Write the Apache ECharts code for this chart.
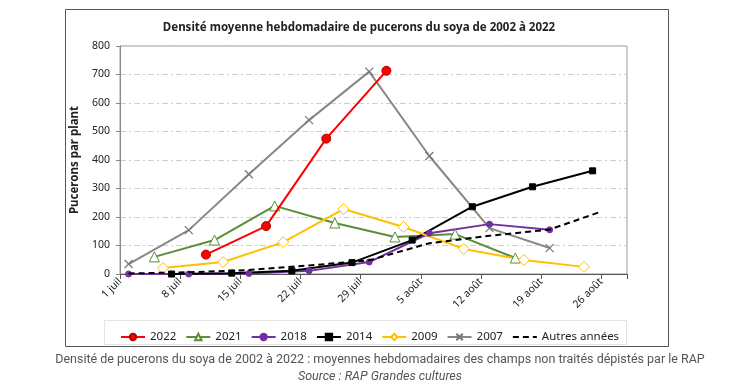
<!DOCTYPE html>
<html><head><meta charset="utf-8">
<script src="https://cdn.jsdelivr.net/npm/echarts@6/dist/echarts.min.js"></script>
<style>html,body{margin:0;padding:0;background:#fff;}#c{width:750px;height:386px;}</style>
</head><body><div id="c"></div>
<script>
// x = days after 1 July
const tickLabels = ['1 juil','8 juil','15 juil','22 juil','29 juil','5 août','12 août','19 août','26 août'];
const days2022 = [10, 17, 24, 31];
const vals2022 = [68, 168, 475, 713];
const days2021 = [4, 11, 18, 25, 32, 39, 46];
const vals2021 = [60, 119, 239, 179, 130, 140, 56];
const days2018 = [1, 8, 15, 22, 29, 36, 43, 50];
const vals2018 = [0, 0, 2, 11, 42, 143, 175, 155];
const days2014 = [6, 13, 20, 27, 34, 41, 48, 55];
const vals2014 = [0, 3, 11, 40, 119, 236, 306, 362];
const days2009 = [5, 12, 19, 26, 33, 40, 47, 54];
const vals2009 = [21, 42, 112, 228, 165, 88, 49, 25];
const days2007 = [1, 8, 15, 22, 29, 36, 43, 50];
const vals2007 = [35, 154, 350, 540, 710, 414, 161, 91];
const daysAutres = [1, 8, 15, 22, 29, 36, 43, 50, 56];
const valsAutres = [2, 6, 14, 30, 48, 108, 134, 156, 219];

const pair = (d, v) => d.map((x, i) => [x, v[i]]);
const F = 'Noto Sans, DejaVu Sans, sans-serif';

const chart = echarts.init(document.getElementById('c'), null, {renderer: 'canvas'});
function ser(name, d, v, color, symbol, size, fill, extra) {
  return Object.assign({
    name, type: 'line', data: pair(d, v), symbol, symbolSize: size,
    lineStyle: {color, width: 2},
    itemStyle: {color: fill, borderColor: color, borderWidth: 1},
    z: 3, animation: false
  }, extra || {});
}
chart.setOption({
  animation: false,
  backgroundColor: '#fff',
  title: [
    {text: 'Densité moyenne hebdomadaire de pucerons du soya de 2002 à 2022', left: 354, textAlign: 'center', top: 17,
     textStyle: {fontFamily: F, fontSize: 11.5, fontWeight: 'bold', color: '#222'}},
    {text: 'Densité de pucerons du soya de 2002 à 2022 : moyennes hebdomadaires des champs non traités dépistés par le RAP', left: 375, textAlign: 'center', top: 348,
     textStyle: {fontFamily: 'Roboto', fontSize: 12.5, fontWeight: 'normal', color: '#555'}},
    {text: 'Source : RAP Grandes cultures', left: 375, textAlign: 'center', top: 365,
     textStyle: {fontFamily: 'Roboto', fontSize: 12.5, fontWeight: 'normal', fontStyle: 'italic', color: '#555'}}
  ],
  graphic: [
    {type: 'rect', shape: {x: 65.5, y: 9.5, width: 603, height: 337}, style: {fill: 'none', stroke: '#555', lineWidth: 1}, z: -1},
    {type: 'rect', shape: {x: 104.5, y: 320.5, width: 522, height: 24}, style: {fill: 'none', stroke: '#c8c8c8', lineWidth: 1, lineDash: [1, 1]}, z: -1}
  ],
  legend: {
    left: 115, top: 326, itemGap: 9, itemWidth: 24, itemHeight: 8,
    textStyle: {fontFamily: F, fontSize: 11.5, color: '#222'},
    data: ['2022','2021','2018','2014','2009','2007',
      {name: 'Autres années', itemStyle: {opacity: 0}}]
  },
  grid: {left: 120, top: 46, right: 123, bottom: 112, show: true, borderColor: '#999', borderWidth: 1},
  xAxis: {
    type: 'value', min: 0, max: 59, interval: 7,
    axisLine: {lineStyle: {color: '#555', width: 1}},
    axisTick: {show: true, length: 5, lineStyle: {color: '#555'}},
    splitLine: {show: false},
    axisLabel: {rotate: 45, margin: 6, fontFamily: F, fontSize: 10.5, color: '#222',
      formatter: v => (v % 7 === 0 && v / 7 < tickLabels.length) ? tickLabels[v / 7] : ''}
  },
  yAxis: {
    type: 'value', min: 0, max: 800, interval: 100,
    name: 'Pucerons par plant', nameLocation: 'middle', nameGap: 37,
    nameTextStyle: {fontFamily: F, fontSize: 11.5, fontWeight: 'bold', color: '#222'},
    axisLine: {show: true, lineStyle: {color: '#888'}},
    axisTick: {show: true, length: 4, lineStyle: {color: '#888'}},
    splitLine: {show: true, lineStyle: {color: '#cfcfcf', type: [6, 3, 2, 3], width: 1}},
    axisLabel: {margin: 10, fontFamily: F, fontSize: 10.5, color: '#222'}
  },
  series: [
    ser('2022', days2022, vals2022, '#FF0000', 'circle', 9, '#FF0000', {itemStyle: {color: '#FF0000', borderColor: '#b00000', borderWidth: 1}, z: 6}),
    ser('2021', days2021, vals2021, '#5A8F3A', 'triangle', 10, '#fff'),
    ser('2018', days2018, vals2018, '#7030A0', 'circle', 6, '#7030A0'),
    ser('2014', days2014, vals2014, '#000000', 'rect', 6, '#000000'),
    ser('2009', days2009, vals2009, '#FFC000', 'diamond', 11, '#fff'),
    ser('2007', days2007, vals2007, '#888888', 'path://M0,0L10,10M10,0L0,10', 8, 'none', {itemStyle: {color: 'none', borderColor: '#777', borderWidth: 1.2}, z: 2}),
    {name: 'Autres années', type: 'line', data: pair(daysAutres, valsAutres), symbol: 'none', showSymbol: false,
     itemStyle: {color: '#000'},
     lineStyle: {color: '#000', width: 2, type: [6, 4]}, z: 4}
  ]
});
</script></body></html>
